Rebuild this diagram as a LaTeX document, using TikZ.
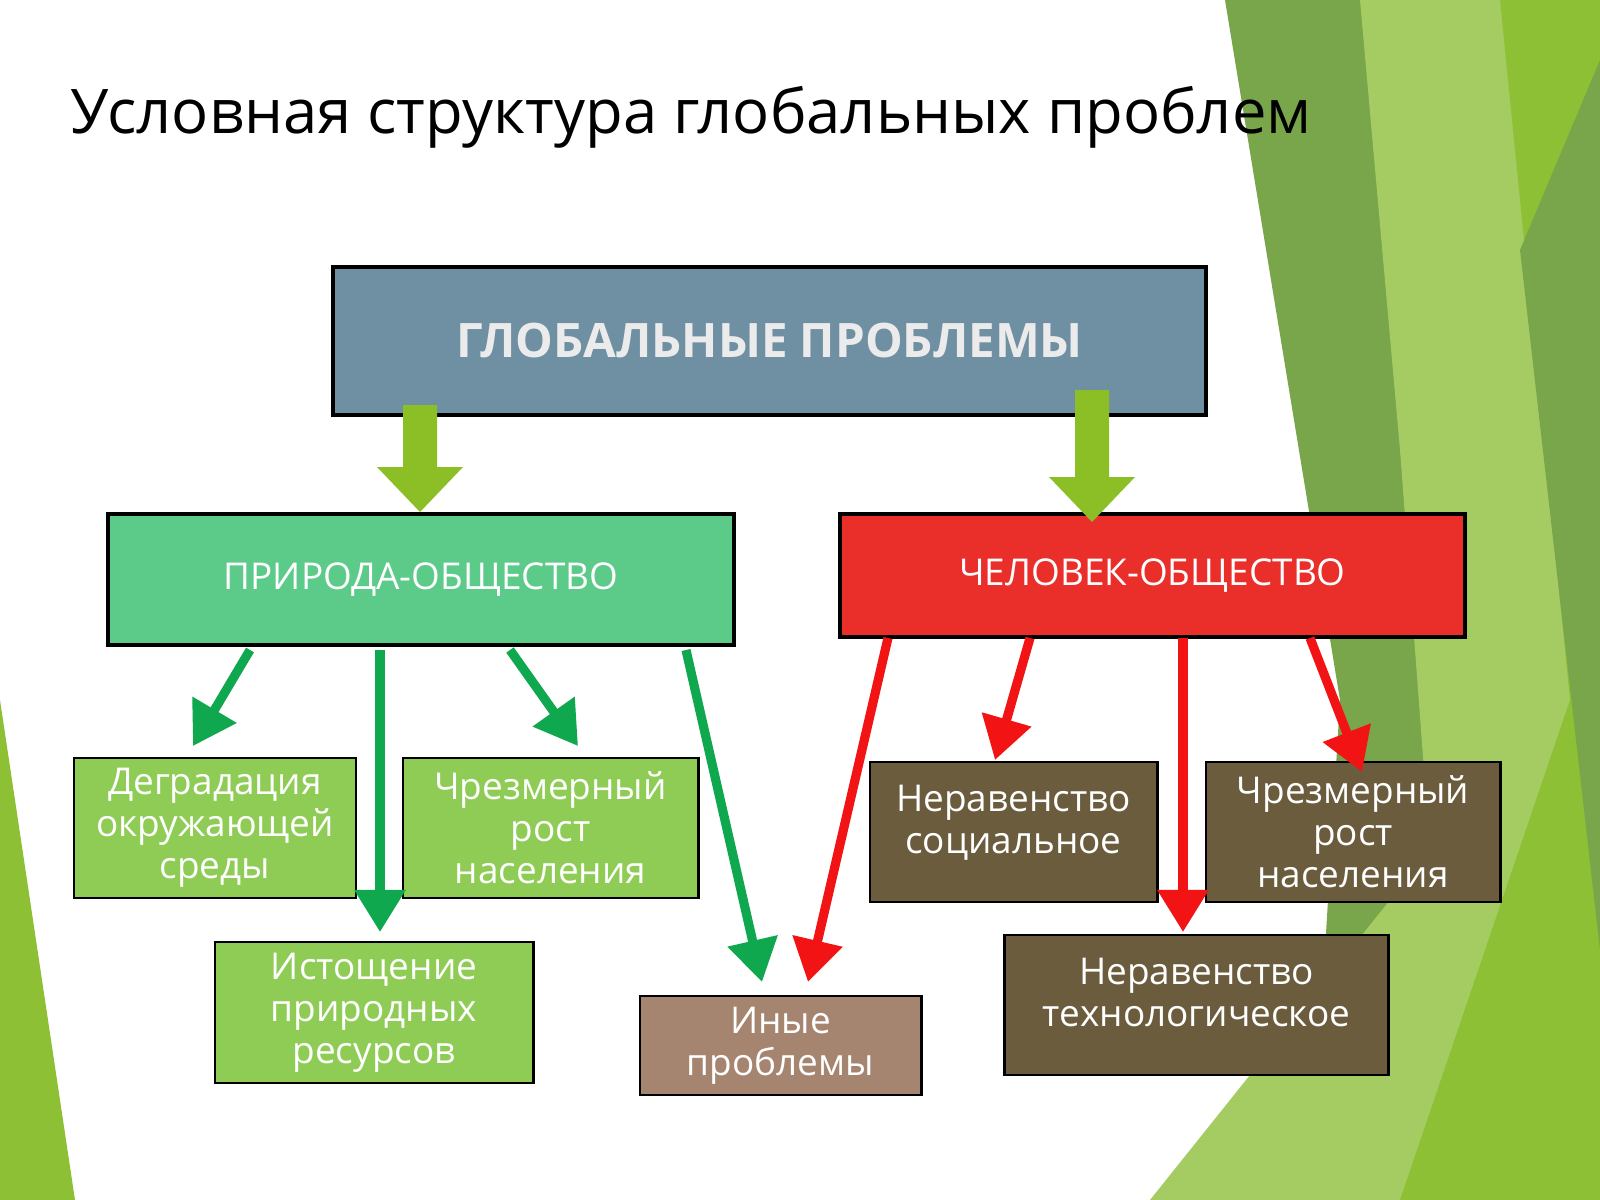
\documentclass[tikz,border=0pt]{standalone}
\usepackage{fontspec}
\setmainfont{Open Sans}
\usetikzlibrary{arrows.meta}
\definecolor{gblue}{HTML}{6F8FA3}
\definecolor{po}{HTML}{5CCB8A}
\definecolor{cho}{HTML}{EA2E2A}
\definecolor{lg}{HTML}{8FCC55}
\definecolor{br}{HTML}{A58470}
\definecolor{db}{HTML}{6B5C3E}
\definecolor{ga}{HTML}{10A84E}
\definecolor{ra}{HTML}{F21414}
\definecolor{ba}{HTML}{8CBF26}
\definecolor{bg1}{HTML}{79A64A}
\definecolor{bg2}{HTML}{A5CC62}
\definecolor{bg3}{HTML}{8DC034}
\begin{document}
\begin{tikzpicture}[x=0.01cm,y=-0.01cm,
 box/.style={draw=black,line width=0.8pt,align=center,text=white,font=\fontsize{10.5}{12}\selectfont,inner sep=0pt},
 lbl/.style={align=center,text=white,font=\fontsize{10.5}{12}\selectfont,anchor=north},
 garr/.style={ga,line width=2.6pt,-{Triangle[length=12pt,width=14pt]}},
 rarr/.style={ra,line width=2.6pt,-{Triangle[length=12pt,width=14pt]}}]
\useasboundingbox (0,0) rectangle (1600,1200);
% background
\fill[white] (0,0) rectangle (1600,1200);
\fill[bg1] (1225,0) -- (1600,0) -- (1600,1200) -- (1310,1200) -- (1340,700) -- cycle;
\fill[bg2] (1360,0) -- (1600,0) -- (1600,1200) -- (1150,1200) -- (1430,850) -- (1400,450) -- cycle;
\fill[bg3] (1500,0) -- (1600,0) -- (1600,1200) -- (1400,1200) -- (1570,700) -- cycle;
\fill[bg1] (1520,250) -- (1600,60) -- (1600,950) -- cycle;
\fill[bg3] (0,700) -- (75,1200) -- (0,1200) -- cycle;
% title
\node[anchor=west,font=\fontsize{17.5}{20}\selectfont] (title) at (58,117) {Условная структура глобальных проблем};
% boxes
\node[box,line width=1.2pt,fill=gblue,minimum width=8.73cm,minimum height=1.48cm,font=\fontsize{13.5}{16}\bfseries\selectfont,text=white!92!black] (top) at (769.5,341) {ГЛОБАЛЬНЫЕ ПРОБЛЕМЫ};
\node[box,line width=1.2pt,fill=po,minimum width=6.26cm,minimum height=1.31cm] (po) at (421,579.5) {ПРИРОДА-ОБЩЕСТВО};
\node[box,line width=1.2pt,fill=cho,minimum width=6.25cm,minimum height=1.23cm] (cho) at (1152.5,575.5) {ЧЕЛОВЕК-ОБЩЕСТВО};
\node[box,fill=lg,minimum width=2.82cm,minimum height=1.4cm] (deg) at (215,828) {Деградация\\окружающей\\среды};
\node[box,fill=lg,minimum width=2.95cm,minimum height=1.4cm] (chr1) at (550.5,828) {Чрезмерный\\рост\\населения};
\node[box,fill=lg,minimum width=3.18cm,minimum height=1.41cm] (ist) at (374,1012.5) {Истощение\\природных\\ресурсов};
\node[box,fill=br,minimum width=2.81cm,minimum height=0.99cm] (iny) at (780.5,1045.5) {Иные\\проблемы};
\node[box,fill=db,minimum width=2.87cm,minimum height=1.4cm] (nsoc) at (1013.5,832) {};
\node[lbl] (nsoct) at ([yshift=-0.12cm]nsoc.north) {Неравенство\\социальное};
\node[box,fill=db,minimum width=2.94cm,minimum height=1.4cm] (chr2) at (1353,832) {Чрезмерный\\рост\\населения};
\node[box,fill=db,minimum width=3.83cm,minimum height=1.4cm] (ntech) at (1196.5,1005) {};
\node[lbl] (ntecht) at ([yshift=-0.12cm]ntech.north) {Неравенство\\технологическое};
% block arrows
\foreach \x/\a/\b in {420/405/512, 1092/390/522}{
 \fill[ba] (\x-17,\a) -- (\x+17,\a) -- (\x+17,\b-45) -- (\x+43,\b-45) -- (\x,\b) -- (\x-43,\b-45) -- (\x-17,\b-45) -- cycle;
}
% thin arrows
\coordinate (g1s) at (250,650); \coordinate (g1e) at (193,746);
\coordinate (g2s) at (380,650); \coordinate (g2e) at (380,932);
\coordinate (g3s) at (510,650); \coordinate (g3e) at (578,746);
\coordinate (g4s) at (686,650); \coordinate (g4e) at (762,982);
\draw[garr] (g1s) -- (g1e);
\draw[garr] (g2s) -- (g2e);
\draw[garr] (g3s) -- (g3e);
\draw[garr] (g4s) -- (g4e);
\coordinate (r1s) at (888,638); \coordinate (r1e) at (808,982);
\coordinate (r2s) at (1030,638); \coordinate (r2e) at (995,760);
\coordinate (r3s) at (1183,638); \coordinate (r3e) at (1183,932);
\coordinate (r4s) at (1310,638); \coordinate (r4e) at (1362,772);
\draw[rarr] (r1s) -- (r1e);
\draw[rarr] (r2s) -- (r2e);
\draw[rarr] (r3s) -- (r3e);
\draw[rarr] (r4s) -- (r4e);
\end{tikzpicture}
\end{document}
